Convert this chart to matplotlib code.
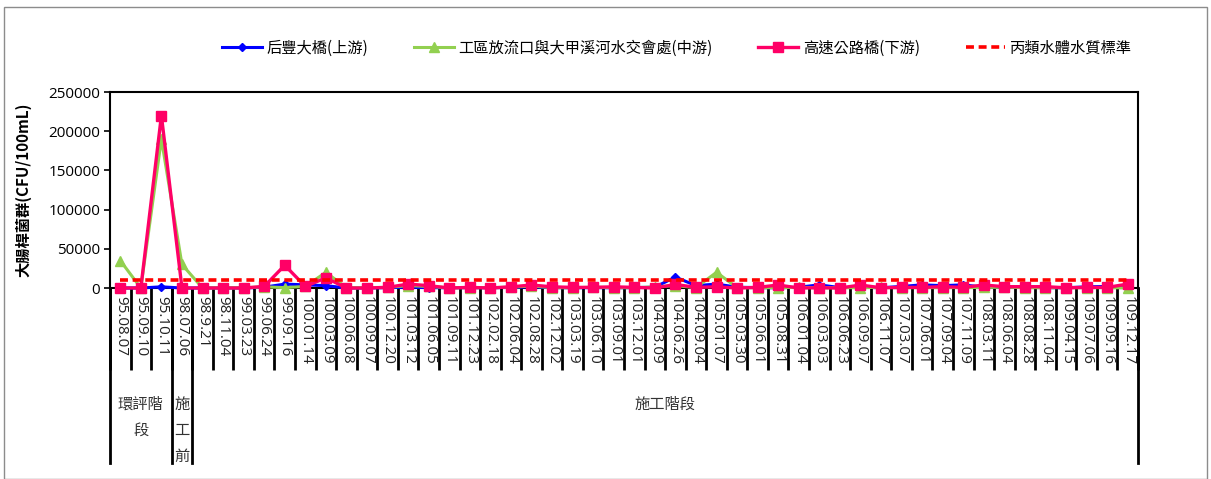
import matplotlib
matplotlib.use("Agg")
import matplotlib.pyplot as plt
from matplotlib.patches import Rectangle
import matplotlib.transforms as mtransforms

plt.rcParams['font.family'] = ['Open Sans', 'Noto Sans CJK TC', 'DejaVu Sans']

# sampling dates (ROC calendar)
dates = ["95.08.07", "95.09.10", "95.10.11", "98.07.06", "98.9.21", "98.11.04", "99.03.23",
         "99.06.24", "99.09.16", "100.01.14", "100.03.09", "100.06.08", "100.09.07", "100.12.20",
         "101.03.12", "101.06.05", "101.09.11", "101.12.23", "102.02.18", "102.06.04", "102.08.28",
         "102.12.02", "103.03.19", "103.06.10", "103.09.01", "103.12.01", "104.03.09", "104.06.26",
         "104.09.04", "105.01.07", "105.03.30", "105.06.01", "105.08.31", "106.01.04", "106.03.03",
         "106.06.23", "106.09.07", "106.11.07", "107.03.07", "107.06.01", "107.09.04", "107.11.09",
         "108.03.11", "108.06.04", "108.08.28", "108.11.04", "109.04.15", "109.07.06", "109.09.16",
         "109.12.17"]

upstream = [0, 0, 1500, 0, 0, 0, 0, 1000, 5000, 4000, 3000, 0, 0, 500, 1000, 500, 300, 500, 300, 800,
            1500, 500, 300, 500, 300, 500, 1000, 14000, 3000, 5000, 1000, 500, 300, 1000, 4000, 500,
            1000, 300, 2000, 4000, 3000, 4000, 1000, 1500, 800, 500, 300, 1500, 2000, 500]
midstream = [35000, 0, 190000, 30000, 0, 300, 200, 1500, 500, 2000, 20000, 300, 500, 800, 3000, 2000,
             300, 500, 500, 1000, 2500, 500, 300, 1000, 500, 300, 1500, 3000, 500, 20000, 500, 300,
             500, 800, 500, 300, 500, 800, 300, 500, 500, 500, 800, 1000, 500, 300, 500, 300, 500, 0]
downstream = [0, 0, 220000, 0, 0, 0, 0, 2000, 29000, 2000, 13000, 0, 0, 800, 5000, 3000, 0, 800, 0,
              1500, 3800, 1500, 800, 800, 1500, 800, 0, 4500, 800, 1500, 0, 800, 3800, 0, 300, 0,
              3800, 300, 800, 800, 1700, 800, 3800, 1700, 1700, 1700, 300, 800, 800, 5000]
standard = 10000

# stage groups: (label, first index, count)
stages = [("環評階\n段", 0, 3), ("施\n工\n前", 3, 1), ("施工階段", 4, 46)]

n = len(dates)
x = [i + 0.5 for i in range(n)]

fig = plt.figure(figsize=(12.11, 4.79), dpi=100)
ax = fig.add_axes([110 / 1211, 1 - 288 / 479, (1138 - 110) / 1211, 196 / 479])

ax.plot(x, upstream, color="#0000FF", lw=2.2, marker="D", ms=4, label="后豐大橋(上游)", clip_on=False, zorder=3)
ax.plot(x, midstream, color="#92D050", lw=2.2, marker="^", ms=7, label="工區放流口與大甲溪河水交會處(中游)", clip_on=False, zorder=4)
ax.plot(x, downstream, color="#FF0066", lw=2.4, marker="s", ms=6.5, label="高速公路橋(下游)", clip_on=False, zorder=5)
ax.plot(x, [standard] * n, color="#FF0000", lw=2.6, ls=(0, (2.2, 1.3)), label="丙類水體水質標準", zorder=6)

ax.set_xlim(0, n)
ax.set_ylim(0, 250000)
ax.set_yticks(range(0, 250001, 50000))
ax.tick_params(axis="y", labelsize=11, length=4, width=1.2, pad=3)

ax.set_xticks(x)
ax.set_xticklabels(dates, rotation=-90, fontsize=11, va="top", color="#222222")
ax.set_xticks(range(n + 1), minor=True)
ax.tick_params(axis="x", which="major", length=0, pad=6)
ax.tick_params(axis="x", which="minor", length=59, width=2, color="black")

for s in ax.spines.values():
    s.set_linewidth(1.5)

ax.set_ylabel("大腸桿菌群(CFU/100mL)", fontsize=11, fontweight="bold",
              family=["Noto Sans CJK TC", "DejaVu Sans"], labelpad=12)

# stage separators and labels below the axis
trans = mtransforms.blended_transform_factory(ax.transData, ax.transAxes)
bounds = sorted(set([s[1] for s in stages] + [n]))
for b in bounds:
    ax.plot([b, b], [0, -0.893], transform=trans, color="black", lw=2, clip_on=False)
for label, start, cnt in stages:
    cx = start + cnt / 2
    ax.text(cx, -0.55, label, transform=trans, ha="center", va="top", fontsize=11,
            linespacing=1.7, family=["Noto Sans CJK TC", "DejaVu Sans"], color="#333333")

leg = fig.legend(loc="center", bbox_to_anchor=(0.559, 0.9), ncol=4, frameon=False,
                 prop={"family": ["Noto Sans CJK TC", "DejaVu Sans"], "size": 11},
                 handlelength=2.6, handletextpad=0.3, columnspacing=3.0)

fig.patches.append(Rectangle((4 / 1211, 0), 1203 / 1211, 1 - 7 / 479, transform=fig.transFigure,
                             fill=False, edgecolor="#8c8c8c", lw=1))

fig.savefig("out.png", dpi=100)
